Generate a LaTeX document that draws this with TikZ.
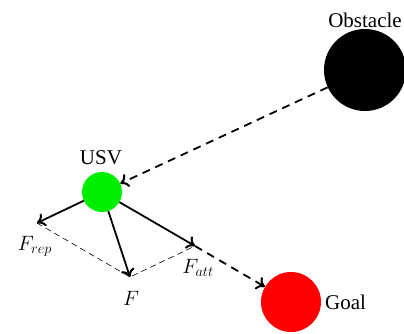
\documentclass[tikz,border=0pt]{standalone}
\usepackage{fontspec}
\setmainfont{Liberation Serif}
\usetikzlibrary{arrows.meta}
\tikzset{
  tip/.style={-{Computer Modern Rightarrow[length=8pt,width=14pt,line width=2pt]}},
  ball/.style={circle, inner sep=0pt, draw=none},
  force/.style={line width=1.8pt, tip},
  path dashed/.style={line width=1.8pt, dash pattern=on 8pt off 6pt, tip},
  guide/.style={line width=0.6pt, dash pattern=on 6pt off 4pt},
  lbl/.style={inner sep=0pt}
}
\begin{document}
\begin{tikzpicture}[x=1pt,y=-1pt,font=\fontsize{21}{25}\selectfont]
\clip (0,0) rectangle (404,333);
\node[ball, fill=black, minimum size=82pt] (obs) at (365,70) {};
\node[ball, fill={rgb,255:red,0;green,238;blue,0}, minimum size=40pt] (usv) at (102,192) {};
\node[ball, fill=red, minimum size=60pt] (goal) at (291,302) {};
\node[lbl] (obslbl) at (365,20) {Obstacle};
\node[lbl] (usvlbl) at (101,158) {USV};
\node[lbl, anchor=west] (goallbl) at (325,302) {Goal};
\coordinate (frep) at (37,223);
\coordinate (fatt) at (195,246);
\coordinate (f) at (130,277);
\node[lbl] (freplbl) at (35,246) {\fontsize{22}{26}\selectfont$F_{rep}$};
\node[lbl] (flbl) at (131,298) {\fontsize{22}{26}\selectfont$F$};
\node[lbl] (fattlbl) at (198,268) {\fontsize{22}{26}\selectfont$F_{att}$};
\draw[path dashed] (obs) -- (usv);
\draw[path dashed] (fatt) -- (goal);
\draw[guide] (frep) -- (f) -- (fatt);
\draw[force] (usv) -- (frep);
\draw[force] (usv) -- (fatt);
\draw[force] (usv) -- (f);
\end{tikzpicture}
\end{document}
